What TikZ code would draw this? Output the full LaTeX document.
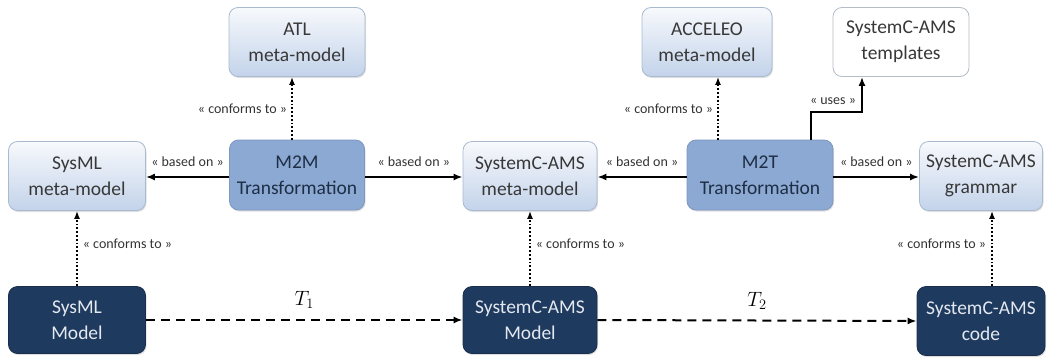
\documentclass[tikz,border=0pt]{standalone}
\usepackage{fontspec}
\setmainfont{Carlito}
\usetikzlibrary{arrows.meta,shadows}
\definecolor{lighttop}{HTML}{F7F9FC}
\definecolor{lightbot}{HTML}{C3D3EA}
\definecolor{lightborder}{HTML}{A9BAD0}
\definecolor{midfill}{HTML}{8CA9D4}
\definecolor{midborder}{HTML}{7D97BF}
\definecolor{midtext}{HTML}{1E2E44}
\definecolor{darkfill}{HTML}{1F3A5F}
\definecolor{darktext}{HTML}{E4E9F0}
\definecolor{tmplborder}{HTML}{B4BCC6}
\tikzset{
  box/.style={rectangle, rounded corners=9pt, minimum width=136pt, minimum height=69pt,
    align=center, font=\fontsize{19.5}{26}\selectfont, inner sep=2pt},
  lightbox/.style={box, draw=lightborder, line width=0.8pt, top color=lighttop, bottom color=lightbot, text=black!78,
    drop shadow={opacity=0.25, shadow xshift=1pt, shadow yshift=-1.5pt}},
  midbox/.style={box, draw=midborder, line width=0.8pt, fill=midfill, text=midtext,
    drop shadow={opacity=0.25, shadow xshift=1pt, shadow yshift=-1.5pt}},
  darkbox/.style={box, draw=darkfill!80!black, line width=0.8pt, fill=darkfill, text=darktext,
    drop shadow={opacity=0.25, shadow xshift=1pt, shadow yshift=-1.5pt}},
  tmplbox/.style={box, draw=tmplborder, line width=0.8pt, fill=white, text=black!78},
  lbl/.style={font=\fontsize{14}{16}\selectfont, text=black!80, inner sep=1pt},
  solidarr/.style={line width=2pt, -{Latex[length=9pt,width=7pt]}},
  dotarr/.style={line width=1.8pt, dotted, -{Latex[length=8pt,width=6pt]}},
  dasharr/.style={line width=2pt, dash pattern=on 9pt off 6pt, -{Latex[length=9pt,width=7pt]}},
}
\begin{document}
\begin{tikzpicture}[x=1pt,y=-1pt]
\useasboundingbox (0,0) rectangle (1048,359);
% top row
\node[lightbox] (atl) at (297,42) {ATL\\meta-model};
\node[lightbox, minimum width=130pt] (acc) at (707,42) {ACCELEO\\meta-model};
\node[tmplbox] (tmpl) at (901,42) {SystemC-AMS\\templates};
% middle row
\node[lightbox, minimum width=137pt] (sysmm) at (77,176) {SysML\\meta-model};
\node[midbox, minimum width=135pt, minimum height=70pt] (m2m) at (297,175) {M2M\\Transformation};
\node[lightbox, minimum width=134pt] (scmm) at (530,176) {SystemC-AMS\\meta-model};
\node[midbox, minimum width=146pt, minimum height=70pt] (m2t) at (760,175) {M2T\\Transformation};
\node[lightbox, minimum width=123pt] (gram) at (981,176) {SystemC-AMS\\grammar};
% bottom row
\node[darkbox, minimum width=137pt, minimum height=67pt] (sysm) at (77,320) {SysML\\Model};
\node[darkbox, minimum width=134pt, minimum height=67pt] (scm) at (530,320) {SystemC-AMS\\Model};
\node[darkbox, minimum width=128pt, minimum height=69pt] (code) at (981,321) {SystemC-AMS\\code};

% based on arrows
\draw[solidarr] (m2m.west |- 0,177) -- (sysmm.east |- 0,177)
  node[lbl, midway, above=8pt] {« based on »};
\draw[solidarr] (m2m.east |- 0,177) -- (scmm.west |- 0,177)
  node[lbl, midway, above=8pt] {« based on »};
\draw[solidarr] (m2t.west |- 0,177) -- (scmm.east |- 0,177)
  node[lbl, midway, above=8pt] {« based on »};
\draw[solidarr] (m2t.east |- 0,177) -- (gram.west |- 0,177)
  node[lbl, midway, above=8pt] {« based on »};

% conforms to (top)
\draw[dotarr] (m2m.north -| 292,0) -- (atl.south -| 292,0)
  node[lbl, pos=0.5, left=3pt] {« conforms to »};
\draw[dotarr] (m2t.north -| 718,0) -- (acc.south -| 718,0)
  node[lbl, pos=0.5, left=3pt] {« conforms to »};

% uses
\coordinate (u1) at (811,112);
\coordinate (u2) at (862,112);
\draw[solidarr] (m2t.north -| u1) -- (u1) -- (u2) -- (tmpl.south -| u2);
\node[lbl, anchor=south] at (833,106) {« uses »};

% conforms to (bottom)
\draw[dotarr] (sysm.north -| 77,0) -- (sysmm.south -| 77,0)
  node[lbl, pos=0.56, right=4pt] {« conforms to »};
\draw[dotarr] (scm.north -| 530,0) -- (scmm.south -| 530,0)
  node[lbl, pos=0.56, right=4pt] {« conforms to »};
\draw[dotarr] (code.north -| 992,0) -- (gram.south -| 992,0)
  node[lbl, pos=0.56, left=4pt] {« conforms to »};

% transformations
\draw[dasharr] (sysm.east) -- (scm.west)
  node[midway, above=7pt, font=\fontsize{22}{24}\selectfont] {$T_1$};
\draw[dasharr] (scm.east) -- (code.west)
  node[midway, above=7pt, font=\fontsize{22}{24}\selectfont] {$T_2$};
\end{tikzpicture}
\end{document}
